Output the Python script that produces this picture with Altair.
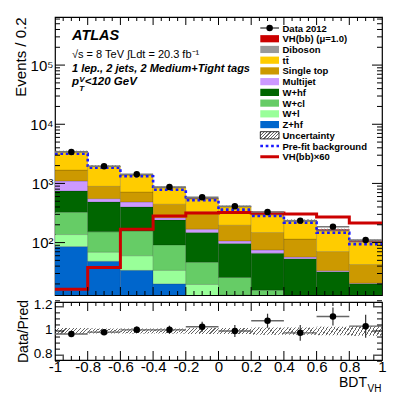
import altair as alt
import pandas as pd

# ---------------- data ----------------
edges = [-1.0, -0.8, -0.6, -0.4, -0.2, 0.0, 0.2, 0.4, 0.6, 0.8, 1.0]
processes = ["Z+hf", "W+l", "W+cl", "W+hf", "Multijet", "Single top", "ttbar", "Diboson", "VH(bb)"]
z_hf = [84.6, 47.3, 32.9, 19.1, 10, 4, 2, 1.5, 1, 0.5]
w_l = [51, 20.6, 26, 13.8, 8.6, 8, 4, 2.5, 2, 1.5]
w_cl = [190, 83, 97, 57.5, 27, 12.7, 8.7, 5, 4, 3]
w_hf = [419, 334, 244, 149, 101, 71, 50.6, 43.5, 24.2, 14.1]
multijet = [352, 67, 85, 22, 21, 10, 8.7, 3.3, 1.3, 0.5]
single_top = [586, 341, 231, 183, 162, 90, 73, 58, 37, 22]
ttbar = [1745, 1040, 668, 398, 217, 201, 145, 114, 87, 59]
diboson = [45, 28, 22, 15, 11, 9, 7, 6, 4.5, 3]
vh = [0.27, 0.63, 2.8, 4.7, 5.28, 5.35, 5.28, 5.08, 4.5, 3.58]
vh_factor = 60
data = [3386, 1942, 1423, 871, 583, 411, 330, 235, 186, 111]
data_err = [58, 44, 38, 30, 24, 20, 18, 15, 14, 11]
prefit = [3170, 1840, 1318, 783, 519, 360, 282, 217, 147, 94]
ratio = [0.975, 0.99, 1.01, 1.01, 1.035, 1.0, 1.085, 0.985, 1.12, 1.04]
ratio_err = [0.017, 0.022, 0.027, 0.034, 0.042, 0.05, 0.058, 0.065, 0.075, 0.095]
unc = [0.025, 0.02, 0.02, 0.02, 0.025, 0.025, 0.03, 0.03, 0.035, 0.04]

colors = ["#0066cc", "#99ff99", "#66cc66", "#006600", "#cc99ff", "#cc9900", "#ffcc00", "#999999", "#cc0000"]
legend_labels = ["Data 2012", "VH(bb) (\u03bc=1.0)", "Diboson", "t\u0074\u0304", "Single top", "Multijet",
                 "W+hf", "W+cl", "W+l", "Z+hf", "Uncertainty", "Pre-fit background", "VH(bb)\u00d760"]

FONT = "Liberation Sans"
W, H1, H2 = 327, 278, 58

# ---------------- tables ----------------
series = [z_hf, w_l, w_cl, w_hf, multijet, single_top, ttbar, diboson, vh]
rows = []
for b in range(10):
    base = 1.0
    for p, s in zip(processes, series):
        rows.append({"proc": p, "lo": edges[b], "hi": edges[b + 1], "y0": base, "y1": base + s[b]})
        base += s[b]
stack_df = pd.DataFrame(rows)
total = [sum(s[b] for s in series) for b in range(10)]

bins_df = pd.DataFrame({
    "lo": edges[:-1], "hi": edges[1:],
    "c": [(a + b) / 2 for a, b in zip(edges[:-1], edges[1:])],
    "data": data, "dlo": [d - e for d, e in zip(data, data_err)], "dhi": [d + e for d, e in zip(data, data_err)],
    "tlo": [t * (1 - u) for t, u in zip(total, unc)], "thi": [t * (1 + u) for t, u in zip(total, unc)],
    "ratio": ratio, "rlo": [r - e for r, e in zip(ratio, ratio_err)], "rhi": [r + e for r, e in zip(ratio, ratio_err)],
    "ulo": [1 - u for u in unc], "uhi": [1 + u for u in unc],
})
step_df = pd.DataFrame({"x": edges, "pre": prefit + [prefit[-1]],
                        "sig": [v * vh_factor for v in vh] + [vh[-1] * vh_factor]})

xs = alt.Scale(domain=[-1, 1], nice=False, zero=False)
ys = alt.Scale(type="log", domain=[13, 6.5e5], nice=False)
rs = alt.Scale(domain=[0.76, 1.24], nice=False, zero=False)

y_major = [1e2, 1e3, 1e4, 1e5]
r_major = [0.8, 1.0, 1.2]

y_axis = alt.Axis(
    values=y_major, title="Events / 0.2", titleAnchor="end", titleFontSize=15, titleFontWeight="normal",
    labelFontSize=15, labelPadding=2, ticks=False, domain=False, grid=False, titlePadding=1,
    labelExpr="'10' + (datum.value == 100 ? '\u00b2' : datum.value == 1000 ? '\u00b3' : datum.value == 10000 ? '\u2074' : '\u2075')")
r_axis = alt.Axis(
    values=r_major, labelExpr="'' + datum.value", title="Data/Pred", titleFontSize=14,
    titleFontWeight="normal", labelFontSize=13.5, labelPadding=3, ticks=False, domain=False, grid=False,
    titlePadding=3, labelOffset=-2)
rx_axis = alt.Axis(
    values=edges, labelExpr="'' + datum.value", labelFontSize=15, labelPadding=-1, ticks=False,
    domain=False, grid=False, title=None, labelFlush=False, labelOverlap=False)


def hatch(w, h, period=4.0, line=1.1, color="#666666"):
    k = h / w
    n = max(1, int(round(w * (1 + k) * (1 + k * k) / period)))
    f = line / period
    stops = []
    for i in range(n):
        a, b, c = i / n, (i + f) / n, (i + 1) / n
        stops += [{"offset": a, "color": color}, {"offset": b, "color": color},
                  {"offset": b, "color": "rgba(0,0,0,0)"}, {"offset": c, "color": "rgba(0,0,0,0)"}]
    return {"gradient": "linear", "x1": 0, "y1": 0, "x2": 1 + k, "y2": k * (1 + k), "stops": stops}


dummy = pd.DataFrame({"d": [0]})


def txt(s, x, y, size, weight="normal", style="normal", align="left"):
    return alt.Chart(dummy).mark_text(text=s, align=align, baseline="alphabetic", fontSize=size,
                                      fontWeight=weight, fontStyle=style, font=FONT, color="black").encode(
        x=alt.value(x), y=alt.value(y))


def tick_layers(xvals_major, xvals_minor, yvals_major, yvals_minor, xscale, yscale, xaxis, yaxis, h,
                xl=(8, 4), yl=(10, 5)):
    out = []
    for vals, ln in ((yvals_major, yl[0]), (yvals_minor, yl[1])):
        df = pd.DataFrame({"v": vals})
        for x0, x1 in ((0, ln), (W, W - ln)):
            out.append(alt.Chart(df).mark_rule(color="black", strokeWidth=1).encode(
                y=alt.Y("v:Q", scale=yscale, axis=yaxis), x=alt.value(x0), x2=alt.value(x1)))
    for vals, ln in ((xvals_major, xl[0]), (xvals_minor, xl[1])):
        df = pd.DataFrame({"v": vals})
        for y0, y1 in ((h, h - ln), (0, ln)):
            out.append(alt.Chart(df).mark_rule(color="black", strokeWidth=1).encode(
                x=alt.X("v:Q", scale=xscale, axis=xaxis), y=alt.value(y0), y2=alt.value(y1)))
    return out


x_major = [round(-0.8 + 0.2 * i, 2) for i in range(9)]
x_minor = [round(-1 + 0.05 * i, 2) for i in range(1, 40) if i % 4 != 0]
y_minor = [m * 10 ** e for e in range(1, 6) for m in range(2, 10) if 13 < m * 10 ** e < 6.5e5]
r_minor = [round(0.8 + 0.05 * i, 2) for i in range(-1, 10) if i % 4 != 0]

# ---------------- main panel ----------------
stack = alt.Chart(stack_df).mark_rect(clip=True, stroke="black", strokeOpacity=0.18, strokeWidth=0.8).encode(
    x=alt.X("lo:Q", scale=xs, axis=None), x2="hi:Q",
    y=alt.Y("y0:Q", scale=ys, axis=y_axis), y2="y1:Q",
    color=alt.Color("proc:N", scale=alt.Scale(domain=processes, range=colors), legend=None),
)
band = alt.Chart(bins_df).mark_rect(fill=hatch(32.7, 4, period=3.5), clip=True).encode(
    x=alt.X("lo:Q", scale=xs, axis=None), x2="hi:Q", y=alt.Y("tlo:Q", scale=ys, axis=y_axis), y2="thi:Q")
pre_line = alt.Chart(step_df).mark_line(interpolate="step-after", color="#1a1aff", strokeWidth=2.6,
                                        strokeDash=[2.7, 2.7], clip=True).encode(
    x=alt.X("x:Q", scale=xs, axis=None), y=alt.Y("pre:Q", scale=ys, axis=y_axis))
sig_line = alt.Chart(step_df).mark_line(interpolate="step-after", color="#cc0000", strokeWidth=3, clip=True).encode(
    x=alt.X("x:Q", scale=xs, axis=None), y=alt.Y("sig:Q", scale=ys, axis=y_axis))
hbar = alt.Chart(bins_df).mark_rule(color="#777777", strokeWidth=1.5).encode(
    x=alt.X("lo:Q", scale=xs, axis=None), x2="hi:Q", y=alt.Y("data:Q", scale=ys, axis=y_axis))
vbar = alt.Chart(bins_df).mark_rule(color="black", strokeWidth=1.2).encode(
    x=alt.X("c:Q", scale=xs, axis=None), y=alt.Y("dlo:Q", scale=ys, axis=y_axis), y2="dhi:Q")
pts = alt.Chart(bins_df).mark_point(filled=True, color="black", size=42, opacity=1).encode(
    x=alt.X("c:Q", scale=xs, axis=None), y=alt.Y("data:Q", scale=ys, axis=y_axis))

texts = [
    txt("ATLAS", 17, 23.3, 14.5, "bold", "italic"),
    txt("\u221as = 8 TeV \u222bLdt = 20.3 fb\u207b\u00b9", 17, 41, 11),
    txt("1 lep., 2 jets, 2 Medium+Tight tags", 17, 55, 11, "bold", "italic"),
    txt("p", 17, 68.3, 11.5, "bold", "italic"),
    txt("V", 24.3, 65, 8, "bold", "italic"),
    txt("T", 24.3, 74, 8, "bold", "italic"),
    txt("<120 GeV", 29.7, 68.3, 11.5, "bold", "italic"),
]

leg = []
bx0, bx1, lx = 205.3, 224.0, 227.5
for i, lab in enumerate(legend_labels):
    cy = 11 + i * 10.73
    leg.append(txt(lab, lx, cy + 3.5, 9.5, "bold"))
    if i == 0:
        leg.append(alt.Chart(dummy).mark_rule(color="black", strokeWidth=1).encode(
            x=alt.value(bx0), x2=alt.value(bx1), y=alt.value(cy)))
        leg.append(alt.Chart(dummy).mark_point(filled=True, color="black", size=42, opacity=1).encode(
            x=alt.value((bx0 + bx1) / 2), y=alt.value(cy)))
    elif 1 <= i <= 9:
        col = colors[len(processes) - i]
        leg.append(alt.Chart(dummy).mark_rect(color=col).encode(
            x=alt.value(bx0), x2=alt.value(bx1), y=alt.value(cy - 3.6), y2=alt.value(cy + 3.6)))
    elif i == 10:
        leg.append(alt.Chart(dummy).mark_rect(fill=hatch(18.7, 7.2, period=3.2), stroke="black", strokeWidth=0.8).encode(
            x=alt.value(bx0), x2=alt.value(bx1), y=alt.value(cy - 3.6), y2=alt.value(cy + 3.6)))
    elif i == 11:
        leg.append(alt.Chart(dummy).mark_rule(color="#1a1aff", strokeWidth=2.6, strokeDash=[2.7, 2.7]).encode(
            x=alt.value(bx0), x2=alt.value(bx1), y=alt.value(cy)))
    else:
        leg.append(alt.Chart(dummy).mark_rule(color="#cc0000", strokeWidth=3).encode(
            x=alt.value(bx0), x2=alt.value(bx1), y=alt.value(cy)))

top = alt.layer(stack, band, pre_line, sig_line, hbar, vbar, pts,
                *tick_layers(x_major, x_minor, y_major, y_minor, xs, ys, None, y_axis, H1),
                *texts, *leg).properties(width=W, height=H1)

# ---------------- ratio panel ----------------
rband = alt.Chart(bins_df).mark_rect(fill=hatch(32.7, 6, period=3.5)).encode(
    x=alt.X("lo:Q", scale=xs, axis=rx_axis), x2="hi:Q",
    y=alt.Y("ulo:Q", scale=rs, axis=r_axis), y2="uhi:Q")
rh = alt.Chart(bins_df).mark_rule(color="#666666", strokeWidth=1.3).encode(
    x=alt.X("lo:Q", scale=xs, axis=rx_axis), x2="hi:Q", y=alt.Y("ratio:Q", scale=rs, axis=r_axis))
rv = alt.Chart(bins_df).mark_rule(color="#333333", strokeWidth=1.2).encode(
    x=alt.X("c:Q", scale=xs, axis=rx_axis), y=alt.Y("rlo:Q", scale=rs, axis=r_axis), y2="rhi:Q")
rp = alt.Chart(bins_df).mark_point(filled=True, color="black", size=42, opacity=1).encode(
    x=alt.X("c:Q", scale=xs, axis=rx_axis), y=alt.Y("ratio:Q", scale=rs, axis=r_axis))
xtitle = [txt("BDT", 312, 85, 14, align="right"), txt("VH", 312.5, 90, 10)]

bottom = alt.layer(rband, rh, rv, rp,
                   *tick_layers(x_major, x_minor, r_major, r_minor, xs, rs, rx_axis, r_axis, H2,
                                xl=(9, 4), yl=(9, 5)),
                   *xtitle).properties(width=W, height=H2)

chart = alt.vconcat(top, bottom, spacing=7, bounds="flush").properties(
    padding={"left": 5, "top": 7, "right": 2, "bottom": 0}
).configure_view(stroke="black", strokeWidth=1.2).configure_axis(
    labelFont=FONT, titleFont=FONT, labelColor="black", titleColor="black")

chart.save("out.html", embed_options={"renderer": "svg", "actions": False})
